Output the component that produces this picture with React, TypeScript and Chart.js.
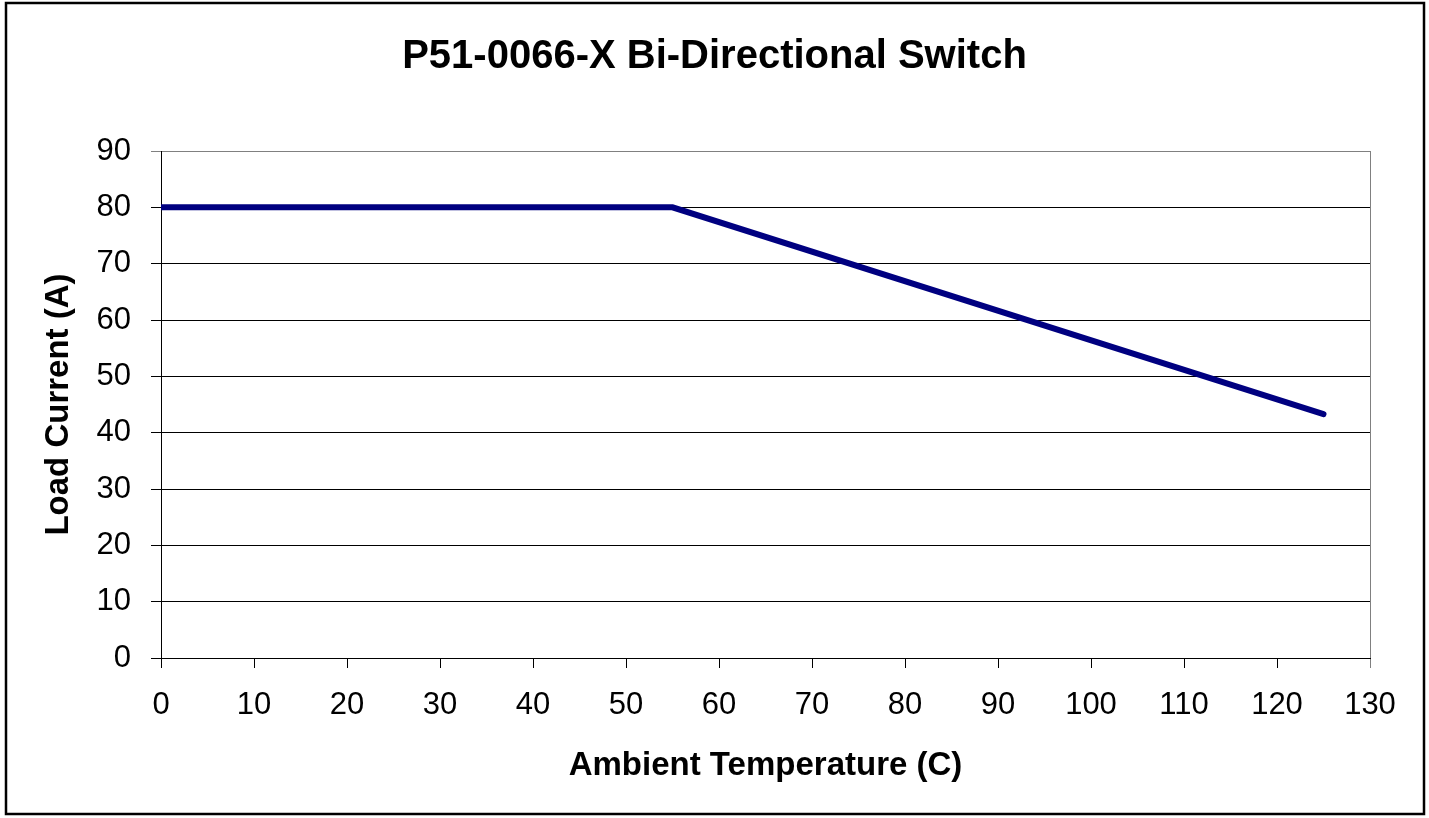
import React, { useEffect, useRef } from "react";
import { Chart, registerables } from "chart.js";

Chart.register(...registerables);

const chartTitle = "P51-0066-X Bi-Directional Switch";
const xAxisTitle = "Ambient Temperature (C)";
const yAxisTitle = "Load Current (A)";
const temperatures = [0, 55, 125];
const loadCurrent = [80, 80, 43.3];
const xTicks = [0, 10, 20, 30, 40, 50, 60, 70, 80, 90, 100, 110, 120, 130];
const yTicks = [0, 10, 20, 30, 40, 50, 60, 70, 80, 90];

const FONT = "'Liberation Sans', Arial, Helvetica, sans-serif";

const framePlugin = {
  id: "frame",
  beforeDraw(chart: any) {
    const ctx = chart.ctx;
    ctx.save();
    ctx.fillStyle = "#ffffff";
    ctx.fillRect(0, 0, chart.width, chart.height);
    ctx.restore();
  },
  afterDraw(chart: any) {
    const ctx = chart.ctx;
    const { right, top, bottom } = chart.chartArea;
    ctx.save();
    ctx.strokeStyle = "#808080";
    ctx.lineWidth = 1;
    ctx.beginPath();
    ctx.moveTo(Math.round(right) + 0.5, top);
    ctx.lineTo(Math.round(right) + 0.5, bottom);
    ctx.stroke();
    ctx.fillStyle = "#000000";
    ctx.font = `bold 40px ${FONT}`;
    ctx.textAlign = "center";
    ctx.textBaseline = "alphabetic";
    ctx.fillText(chartTitle, chart.width / 2, 68);
    ctx.strokeStyle = "#000000";
    ctx.lineWidth = 2.5;
    ctx.strokeRect(6, 3, 1418, 811);
    ctx.restore();
  },
};

export default function App() {
  const canvasRef = useRef<HTMLCanvasElement | null>(null);

  useEffect(() => {
    if (!canvasRef.current) return;
    const points = temperatures.map((t, i) => ({ x: t, y: loadCurrent[i] }));
    const chart = new Chart(canvasRef.current, {
      type: "line",
      data: {
        datasets: [
          {
            label: "Load Current",
            data: points,
            borderColor: "#000080",
            backgroundColor: "#000080",
            borderWidth: 6,
            borderCapStyle: "round",
            borderJoinStyle: "miter",
            pointRadius: 0,
            tension: 0,
            fill: false,
          },
        ],
      },
      options: {
        responsive: true,
        maintainAspectRatio: false,
        animation: false,
        layout: { padding: { top: 151, right: 59, bottom: 0, left: 0 } },
        plugins: {
          legend: { display: false },
          tooltip: { enabled: false },
          title: { display: false },
        },
        scales: {
          x: {
            type: "linear",
            min: 0,
            max: 130,
            afterFit: (s: any) => {
              s.height = 160;
            },
            afterBuildTicks: (s: any) => {
              s.ticks = xTicks.map((v) => ({ value: v }));
            },
            ticks: {
              color: "#000000",
              font: { family: FONT, size: 31 },
              padding: 19,
              maxRotation: 0,
              autoSkip: false,
            },
            grid: {
              drawOnChartArea: false,
              drawTicks: true,
              tickLength: 10,
              color: (c: any) => (c.tick && c.tick.value === 130 ? "#808080" : "#000000"),
              lineWidth: 1,
            },
            border: { color: "#000000", width: 1 },
            title: {
              display: true,
              text: xAxisTitle,
              color: "#000000",
              font: { family: FONT, size: 33, weight: "bold", lineHeight: 1 },
              padding: { top: 0, bottom: 36 },
            },
          },
          y: {
            type: "linear",
            min: 0,
            max: 90,
            afterFit: (s: any) => {
              s.width = 161;
            },
            afterBuildTicks: (s: any) => {
              s.ticks = yTicks.map((v) => ({ value: v }));
            },
            ticks: {
              color: "#000000",
              font: { family: FONT, size: 31 },
              padding: 20,
              autoSkip: false,
            },
            grid: {
              drawTicks: true,
              tickLength: 10,
              color: (c: any) => (c.tick && c.tick.value === 90 ? "#808080" : "#000000"),
              lineWidth: 1,
            },
            border: { color: "#000000", width: 1 },
            title: {
              display: true,
              text: yAxisTitle,
              color: "#000000",
              font: { family: FONT, size: 33, weight: "bold", lineHeight: 1 },
              padding: { top: 42, bottom: 0 },
            },
          },
        },
      },
      plugins: [framePlugin],
    } as any);
    return () => chart.destroy();
  }, []);

  return (
    <div style={{ position: "fixed", left: 0, top: 0, width: 1429, height: 818, background: "#fff" }}>
      <canvas ref={canvasRef} />
    </div>
  );
}
